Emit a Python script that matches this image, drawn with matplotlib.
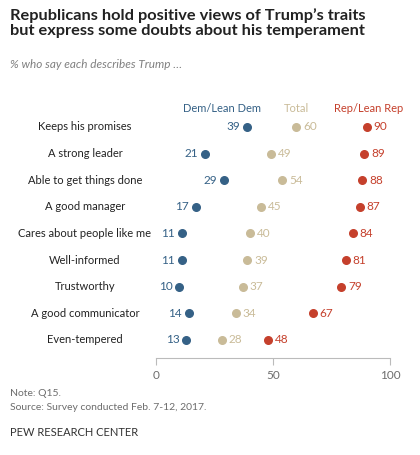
import matplotlib.pyplot as plt

traits = ["Keeps his promises", "A strong leader", "Able to get things done",
          "A good manager", "Cares about people like me", "Well-informed",
          "Trustworthy", "A good communicator", "Even-tempered"]
dem = [39, 21, 29, 17, 11, 11, 10, 14, 13]
total = [60, 49, 54, 45, 40, 39, 37, 34, 28]
rep = [90, 89, 88, 87, 84, 81, 79, 67, 48]

C_DEM = "#356186"
C_TOT = "#c9bb98"
C_REP = "#c5402c"
GREY = "#6d6d6d"

plt.rcParams['font.family'] = ['Lato', 'DejaVu Sans']

W, H = 420, 455
fig = plt.figure(figsize=(W / 100, H / 100), dpi=100)
# axes spans pixel x 156..390, y 100..358
ax = fig.add_axes([156 / W, 1 - 358 / H, (390 - 156) / W, (358 - 100) / H])
ax.set_xlim(0, 100)
ax.set_ylim(358, 100)

rows = [127 + i * 26.6 for i in range(len(traits))]
for y, name, d, t, r in zip(rows, traits, dem, total, rep):
    ax.scatter([d], [y], s=30, color=C_DEM, zorder=3, clip_on=False)
    ax.scatter([t], [y], s=30, color=C_TOT, zorder=3, clip_on=False)
    ax.scatter([r], [y], s=30, color=C_REP, zorder=3, clip_on=False)
    ax.text(d - 3, y, str(d), color=C_DEM, fontsize=8.5, ha='right', va='center')
    ax.text(t + 3, y, str(t), color=C_TOT, fontsize=8.5, ha='left', va='center')
    ax.text(r + 3, y, str(r), color=C_REP, fontsize=8.5, ha='left', va='center')
    fig.text(85 / W, 1 - y / H, name, fontsize=8, color="#222222", ha='center', va='center')

ax.text(28, 108, "Dem/Lean Dem", color=C_DEM, fontsize=8, ha='center', va='center')
ax.text(60, 108, "Total", color=C_TOT, fontsize=8, ha='center', va='center')
ax.text(91, 108, "Rep/Lean Rep", color=C_REP, fontsize=8, ha='center', va='center')

for s in ['top', 'right', 'left']:
    ax.spines[s].set_visible(False)
ax.spines['bottom'].set_color("#bbbbbb")
ax.set_yticks([])
ax.set_xticks([0, 50, 100])
ax.tick_params(axis='x', colors="#bbbbbb", labelcolor=GREY, labelsize=8.5, length=5)

fig.text(10 / W, 1 - 23 / H, "Republicans hold positive views of Trump\u2019s traits\nbut express some doubts about his temperament",
         fontsize=11.8, fontweight='bold', color="#222222", ha='left', va='center', linespacing=1.15)
fig.text(10 / W, 1 - 64 / H, "% who say each describes Trump \u2026", fontsize=8.5,
         style='italic', color="#808080", ha='left', va='center')
fig.text(10 / W, 1 - 394 / H, "Note: Q15.", fontsize=7.5, color=GREY, ha='left', va='center')
fig.text(10 / W, 1 - 407 / H, "Source: Survey conducted Feb. 7-12, 2017.", fontsize=7.5,
         color=GREY, ha='left', va='center')
fig.text(10 / W, 1 - 433 / H, "PEW RESEARCH CENTER", fontsize=8, color="#333333",
         ha='left', va='center')

fig.savefig("out.png", dpi=100)
